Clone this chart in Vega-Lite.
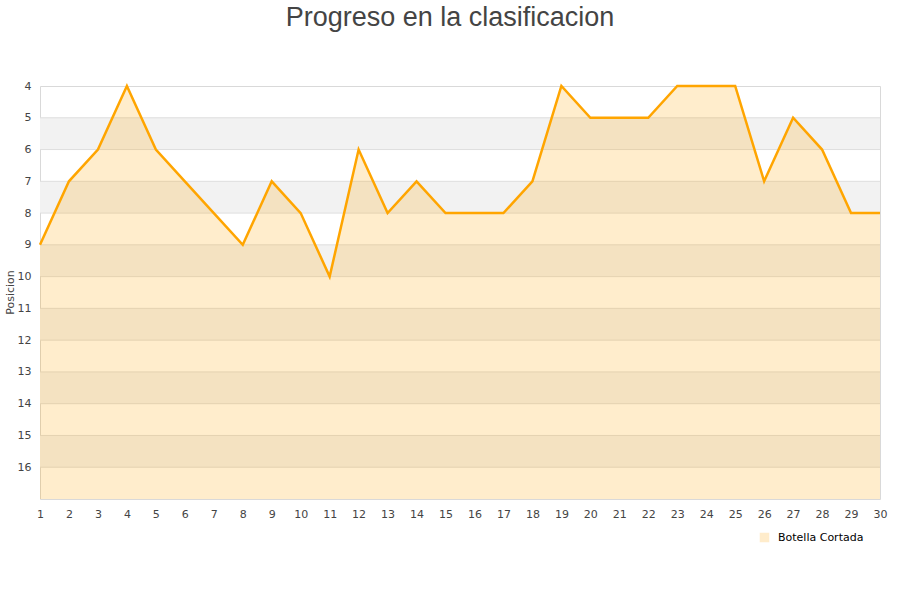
{
  "$schema": "https://vega.github.io/schema/vega-lite/v6.json",
  "autosize": {"type": "none"},
  "padding": {"left": 40, "top": 86, "right": 20, "bottom": 101},
  "width": 840,
  "height": 413,
  "background": "white",
  "config": {
    "view": {"stroke": "#d9d9d9", "strokeWidth": 1},
    "font": "DejaVu Sans",
    "axis": {"labelOverlap": false, "labelBound": false}
  },
  "title": {
    "text": "Progreso en la clasificacion",
    "font": "Liberation Sans",
    "fontSize": 27,
    "fontWeight": "normal",
    "color": "#444444",
    "anchor": "middle",
    "offset": 48,
    "dx": -10
  },
  "datasets": {
    "series": [
      {"jornada": 1, "posicion": 9, "equipo": "Botella Cortada"},
      {"jornada": 2, "posicion": 7, "equipo": "Botella Cortada"},
      {"jornada": 3, "posicion": 6, "equipo": "Botella Cortada"},
      {"jornada": 4, "posicion": 4, "equipo": "Botella Cortada"},
      {"jornada": 5, "posicion": 6, "equipo": "Botella Cortada"},
      {"jornada": 6, "posicion": 7, "equipo": "Botella Cortada"},
      {"jornada": 7, "posicion": 8, "equipo": "Botella Cortada"},
      {"jornada": 8, "posicion": 9, "equipo": "Botella Cortada"},
      {"jornada": 9, "posicion": 7, "equipo": "Botella Cortada"},
      {"jornada": 10, "posicion": 8, "equipo": "Botella Cortada"},
      {"jornada": 11, "posicion": 10, "equipo": "Botella Cortada"},
      {"jornada": 12, "posicion": 6, "equipo": "Botella Cortada"},
      {"jornada": 13, "posicion": 8, "equipo": "Botella Cortada"},
      {"jornada": 14, "posicion": 7, "equipo": "Botella Cortada"},
      {"jornada": 15, "posicion": 8, "equipo": "Botella Cortada"},
      {"jornada": 16, "posicion": 8, "equipo": "Botella Cortada"},
      {"jornada": 17, "posicion": 8, "equipo": "Botella Cortada"},
      {"jornada": 18, "posicion": 7, "equipo": "Botella Cortada"},
      {"jornada": 19, "posicion": 4, "equipo": "Botella Cortada"},
      {"jornada": 20, "posicion": 5, "equipo": "Botella Cortada"},
      {"jornada": 21, "posicion": 5, "equipo": "Botella Cortada"},
      {"jornada": 22, "posicion": 5, "equipo": "Botella Cortada"},
      {"jornada": 23, "posicion": 4, "equipo": "Botella Cortada"},
      {"jornada": 24, "posicion": 4, "equipo": "Botella Cortada"},
      {"jornada": 25, "posicion": 4, "equipo": "Botella Cortada"},
      {"jornada": 26, "posicion": 7, "equipo": "Botella Cortada"},
      {"jornada": 27, "posicion": 5, "equipo": "Botella Cortada"},
      {"jornada": 28, "posicion": 6, "equipo": "Botella Cortada"},
      {"jornada": 29, "posicion": 8, "equipo": "Botella Cortada"},
      {"jornada": 30, "posicion": 8, "equipo": "Botella Cortada"}
    ],
    "bands": [
      {"desde": 5, "hasta": 6},
      {"desde": 7, "hasta": 8},
      {"desde": 9, "hasta": 10},
      {"desde": 11, "hasta": 12},
      {"desde": 13, "hasta": 14},
      {"desde": 15, "hasta": 16}
    ],
    "grid": [
      {"nivel": 5}, {"nivel": 6}, {"nivel": 7}, {"nivel": 8}, {"nivel": 9},
      {"nivel": 10}, {"nivel": 11}, {"nivel": 12}, {"nivel": 13}, {"nivel": 14},
      {"nivel": 15}, {"nivel": 16}
    ]
  },
  "layer": [
    {
      "data": {"name": "bands"},
      "mark": {"type": "rect", "fill": "#f2f2f2"},
      "encoding": {
        "y": {
          "field": "desde", "type": "quantitative",
          "scale": {"domain": [4, 17], "reverse": true, "nice": false, "zero": false},
          "axis": {
            "values": [4,5,6,7,8,9,10,11,12,13,14,15,16],
            "tickCount": 13,
            "title": "Posicion", "titleFontSize": 11, "titleFontWeight": "normal",
            "titleColor": "#444444", "titleFont": "DejaVu Sans",
            "titleX": -30, "titleY": 206, "titleAngle": -90, "titleAlign": "center", "titleBaseline": "middle",
            "grid": false, "domain": false, "ticks": false,
            "labelPadding": 9, "labelFontSize": 11, "labelColor": "#444444",
            "labelFont": "DejaVu Sans", "labelFlush": false, "labelOverlap": false
          }
        },
        "y2": {"field": "hasta"}
      }
    },
    {
      "data": {"name": "grid"},
      "mark": {"type": "rule", "stroke": "#dedede", "strokeWidth": 1},
      "encoding": {
        "y": {"field": "nivel", "type": "quantitative"}
      }
    },
    {
      "data": {"name": "series"},
      "mark": {
        "type": "area",
        "opacity": 0.2,
        "line": {"strokeWidth": 2.5, "color": "#ffa500", "opacity": 1}
      },
      "encoding": {
        "x": {
          "field": "jornada", "type": "quantitative",
          "scale": {"domain": [1, 30], "nice": false, "zero": false},
          "axis": {
            "values": [1,2,3,4,5,6,7,8,9,10,11,12,13,14,15,16,17,18,19,20,21,22,23,24,25,26,27,28,29,30],
            "title": null, "grid": false, "domain": false, "ticks": false,
            "labelPadding": 9, "labelFontSize": 11, "labelColor": "#444444",
            "labelFont": "DejaVu Sans", "labelFlush": false, "labelOverlap": false
          }
        },
        "y": {"field": "posicion", "type": "quantitative"},
        "y2": {"datum": 17},
        "color": {
          "field": "equipo", "type": "nominal",
          "scale": {"range": ["#ffa500"]},
          "legend": {
            "title": null,
            "orient": "none",
            "legendX": 719,
            "legendY": 446,
            "symbolType": "square",
            "symbolSize": 64,
            "symbolStrokeColor": "#8a6a30",
            "symbolStrokeWidth": 1.5,
            "labelFontSize": 11,
            "labelColor": "#000000",
            "labelFont": "DejaVu Sans",
            "labelOffset": 8
          }
        }
      }
    }
  ]
}
